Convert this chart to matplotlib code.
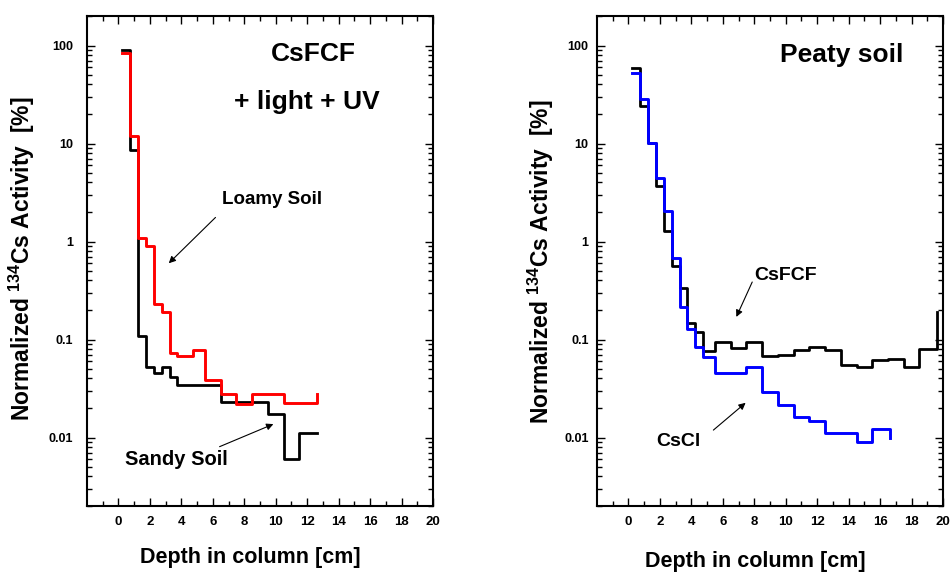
import numpy as np
import matplotlib
matplotlib.use("Agg")
import matplotlib.pyplot as plt
from matplotlib.ticker import LogLocator, NullFormatter

plt.rcParams['font.family'] = ['Liberation Sans', 'DejaVu Sans']
plt.rcParams['font.weight'] = 'bold'
plt.rcParams['mathtext.fontset'] = 'custom'
plt.rcParams['mathtext.rm'] = 'Liberation Sans:bold'
plt.rcParams['mathtext.it'] = 'Liberation Sans:bold'
plt.rcParams['mathtext.bf'] = 'Liberation Sans:bold'

# depth of the start of each slice [cm] and activity in it [%]
# (last point closes the final step)
sandy_depth = [0.2, 0.75, 1.25, 1.75, 2.25, 2.75, 3.25, 3.75, 6.5, 9.5, 10.5, 11.5, 12.6]
sandy_act = [89, 8.6, 0.108, 0.052, 0.046, 0.052, 0.041, 0.034, 0.023, 0.0172, 0.006, 0.011, 0.011]

loamy_depth = [0.2, 0.75, 1.25, 1.75, 2.25, 2.75, 3.25, 3.75, 4.75, 5.5, 6.5, 7.5, 8.5, 10.5, 12.6]
loamy_act = [84, 11.8, 1.08, 0.89, 0.228, 0.19, 0.072, 0.068, 0.079, 0.039, 0.028, 0.022, 0.028, 0.0223, 0.028]

peat_csfcf_depth = [0.2, 0.75, 1.25, 1.75, 2.25, 2.75, 3.25, 3.75, 4.25, 4.75, 5.5, 6.5, 7.5,
                    8.5, 9.5, 10.5, 11.5, 12.5, 13.5, 14.5, 15.5, 16.5, 17.5, 18.5, 19.6]
peat_csfcf_act = [59, 24, 10.2, 3.7, 1.27, 0.56, 0.336, 0.149, 0.12, 0.076, 0.095, 0.081, 0.094,
                  0.068, 0.070, 0.078, 0.084, 0.078, 0.055, 0.052, 0.062, 0.063, 0.053, 0.080, 0.19]

peat_cscl_depth = [0.2, 0.75, 1.25, 1.75, 2.25, 2.75, 3.25, 3.75, 4.25, 4.75, 5.5, 7.5, 8.5,
                   9.5, 10.5, 11.5, 12.5, 14.5, 15.5, 16.6]
peat_cscl_act = [53, 28.6, 10.2, 4.4, 2.03, 0.68, 0.215, 0.127, 0.084, 0.067, 0.045, 0.053, 0.029,
                 0.0214, 0.016, 0.0148, 0.011, 0.0091, 0.0121, 0.0098]

x_ticks = list(range(0, 21, 2))
y_ticks = [0.01, 0.1, 1, 10, 100]
y_labels = ['0.01', '0.1', '1', '10', '100']


def setup_axes(ax, ypad):
    ax.set_yscale('log')
    ax.set_xlim(-2, 20)
    ax.set_ylim(0.002, 200)
    ax.set_xticks(x_ticks)
    ax.set_xticklabels([str(t) for t in x_ticks], fontsize=9.5, fontweight='bold')
    ax.set_xticks(list(range(-1, 20, 2)), minor=True)
    ax.set_yticks(y_ticks)
    ax.set_yticklabels(y_labels, fontsize=9, fontweight='bold')
    ax.yaxis.set_minor_locator(LogLocator(base=10, subs=np.arange(2, 10), numticks=30))
    ax.yaxis.set_minor_formatter(NullFormatter())
    ax.tick_params(which='both', direction='in', top=True, right=True, width=1.0)
    ax.tick_params(which='major', length=6)
    ax.tick_params(which='minor', length=3.5)
    ax.tick_params(axis='x', which='major', pad=7)
    ax.tick_params(axis='y', which='major', pad=ypad)
    for s in ax.spines.values():
        s.set_linewidth(1.5)


fig = plt.figure(figsize=(9.5, 5.74), dpi=100)
ax1 = fig.add_axes([87 / 950, 1 - 506 / 574, 346 / 950, 490 / 574])
ax2 = fig.add_axes([597 / 950, 1 - 506 / 574, 346 / 950, 490 / 574])

# left panel: CsFCF in sandy and loamy soil
ax1.plot(sandy_depth, sandy_act, drawstyle='steps-post', color='black', lw=2.0)
ax1.plot(loamy_depth, loamy_act, drawstyle='steps-post', color='#ff0000', lw=2.1)
setup_axes(ax1, 10)

ax1.text(12.42, 70, 'CsFCF', fontsize=19, ha='center', va='baseline')
ax1.text(11.95, 22.3, '+ light + UV', fontsize=19, ha='center', va='baseline')
ax1.text(9.74, 2.41, 'Loamy Soil', fontsize=13.5, ha='center', va='baseline')
ax1.text(3.7, 0.00525, 'Sandy Soil', fontsize=14.5, ha='center', va='baseline')
arrow = dict(arrowstyle='-|>', color='black', lw=0.8, mutation_scale=10, shrinkA=0, shrinkB=0)
ax1.annotate('', xy=(3.2, 0.6), xytext=(6.17, 1.76), arrowprops=arrow)
ax1.annotate('', xy=(9.85, 0.0137), xytext=(6.43, 0.00806), arrowprops=arrow)

# right panel: peaty soil, CsFCF vs CsCl
ax2.plot(peat_csfcf_depth, peat_csfcf_act, drawstyle='steps-post', color='black', lw=2.0)
ax2.plot(peat_cscl_depth, peat_cscl_act, drawstyle='steps-post', color='#0000ff', lw=2.1)
setup_axes(ax2, 6)

ax2.text(13.58, 67.6, 'Peaty soil', fontsize=19, ha='center', va='baseline')
ax2.text(9.98, 0.409, 'CsFCF', fontsize=14, ha='center', va='baseline')
ax2.text(3.2, 0.00817, 'CsCl', fontsize=14, ha='center', va='baseline')
ax2.annotate('', xy=(6.86, 0.17), xytext=(7.87, 0.386), arrowprops=arrow)
ax2.annotate('', xy=(7.45, 0.0226), xytext=(5.4, 0.0119), arrowprops=arrow)

ylab = r'Normalized $^{134}$Cs Activity  [%]'
fig.text(22 / 950, 1 - 259 / 574, ylab, rotation=90, fontsize=16.5, ha='center', va='center')
fig.text(541 / 950, 1 - 262 / 574, ylab, rotation=90, fontsize=16.5, ha='center', va='center')
fig.text(250 / 950, 1 - 557 / 574, 'Depth in column [cm]', fontsize=15.5, ha='center', va='center')
fig.text(755 / 950, 1 - 562 / 574, 'Depth in column [cm]', fontsize=15.5, ha='center', va='center')

fig.savefig('out.png', dpi=100)
